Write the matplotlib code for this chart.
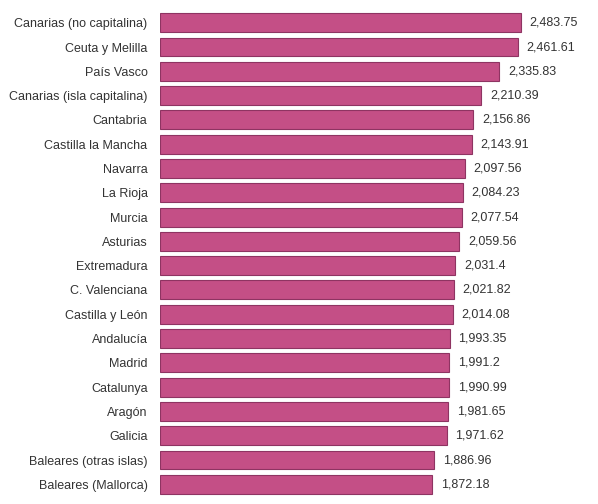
import matplotlib
matplotlib.use("Agg")
import matplotlib.pyplot as plt

# Datos
regiones = [
    "Canarias (no capitalina)", "Ceuta y Melilla", "País Vasco",
    "Canarias (isla capitalina)", "Cantabria", "Castilla la Mancha",
    "Navarra", "La Rioja", "Murcia", "Asturias", "Extremadura",
    "C. Valenciana", "Castilla y León", "Andalucía", "Madrid",
    "Catalunya", "Aragón", "Galicia", "Baleares (otras islas)",
    "Baleares (Mallorca)",
]
valores = [
    2483.75, 2461.61, 2335.83, 2210.39, 2156.86, 2143.91, 2097.56,
    2084.23, 2077.54, 2059.56, 2031.4, 2021.82, 2014.08, 1993.35,
    1991.2, 1990.99, 1981.65, 1971.62, 1886.96, 1872.18,
]
etiquetas = [
    "2,483.75", "2,461.61", "2,335.83", "2,210.39", "2,156.86", "2,143.91",
    "2,097.56", "2,084.23", "2,077.54", "2,059.56", "2,031.4", "2,021.82",
    "2,014.08", "1,993.35", "1,991.2", "1,990.99", "1,981.65", "1,971.62",
    "1,886.96", "1,872.18",
]

plt.rcParams["font.family"] = ["Liberation Sans", "DejaVu Sans"]

fig = plt.figure(figsize=(5.98, 5.04), dpi=100)
ax = fig.add_axes([160 / 598, 0.015, 438 / 598, 0.964])

pos = list(range(len(regiones)))
ax.barh(pos, valores, height=0.78, color="#c44f86", edgecolor="#8e3462", linewidth=0.8)

for p, v, t in zip(pos, valores, etiquetas):
    ax.text(v + 60, p, t, va="center", ha="left", fontsize=9, color="#333333")

ax.set_yticks(pos)
ax.set_yticklabels(regiones, fontsize=9, color="#333333")
ax.tick_params(axis="y", length=0, pad=9)
ax.set_xticks([])
ax.set_xlim(0, 3014)
ax.set_ylim(len(regiones) - 0.5, -0.5)
for s in ax.spines.values():
    s.set_visible(False)

fig.savefig("out.png", dpi=100)
